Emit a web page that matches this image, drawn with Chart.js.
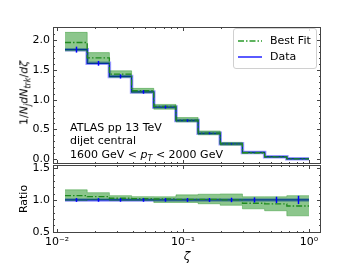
<!DOCTYPE html>
<html lang="en">
<head>
  <meta charset="UTF-8" />
  <title>Fragmentation function ratio</title>
  <script src="https://cdn.jsdelivr.net/npm/chart.js"></script>
  <style>
    body { margin: 0; background: #fff; }
    #wrap { position: relative; width: 357px; height: 268px; background: #fff;
      font-family: 'DejaVu Sans', sans-serif; color: #000; }
    #wrap canvas { position: absolute; left: 0; top: 0; }
    .ov { position: absolute; white-space: nowrap; font-size: 11px; }
    #ylab { left: 25px; top: 93px; transform: translate(-50%, -50%) rotate(-90deg); }
    #ylab sub { font-size: 8px; }
    #note { left: 70px; top: 121px; line-height: 13.3px; }
    #note sub { font-size: 8px; }
    #legend { left: 233px; top: 28px; width: 82px; height: 39px; border: 1px solid #d0d0d0;
      border-radius: 3px; background: rgba(255,255,255,0.8); }
    #legend .row { position: absolute; left: 0; height: 14px; line-height: 14px; }
    #legend svg { position: absolute; left: 3px; top: 2px; }
    #legend span { position: absolute; left: 36px; top: 0; }
  </style>
</head>
<body>
<div id="wrap">
  <canvas id="topChart" width="357" height="268"></canvas>
  <canvas id="ratioChart" width="357" height="268"></canvas>
  <div class="ov" id="ylab">1/<i>N</i><sub><i>j</i></sub><i>dN</i><sub><i>trk</i></sub>/<i>dζ</i></div>
  <div class="ov" id="note">ATLAS pp 13 TeV<br>dijet central<br>1600 GeV &lt; <i>p</i><sub><i>T</i></sub> &lt; 2000 GeV</div>
  <div class="ov" id="legend">
    <div class="row" style="top:5px">
      <svg width="26" height="10"><line x1="1" y1="5" x2="25" y2="5" stroke="#2a9a2a" stroke-width="1.3" stroke-dasharray="6,2,1.5,2"/></svg>
      <span>Best Fit</span>
    </div>
    <div class="row" style="top:21px">
      <svg width="26" height="10"><line x1="1" y1="5" x2="25" y2="5" stroke="#0000ff" stroke-width="1.3"/></svg>
      <span>Data</span>
    </div>
  </div>
</div>

<script>
// bin edges in zeta
const edges = [0.01157, 0.01736, 0.02604, 0.03906, 0.05859, 0.08789, 0.1318, 0.1975, 0.2963, 0.4444, 0.6667, 1.0];

// top panel
const dataVals = [1.84, 1.61, 1.39, 1.13, 0.875, 0.65, 0.435, 0.258, 0.115, 0.042, 0.008];
const dataErr  = [0.05, 0.04, 0.035, 0.03, 0.025, 0.02, 0.015, 0.01, 0.006, 0.003, 0.001];
const fitVals  = [1.96, 1.70, 1.43, 1.15, 0.887, 0.657, 0.44, 0.258, 0.109, 0.039, 0.007];
const fitHi    = [2.13, 1.79, 1.485, 1.19, 0.92, 0.70, 0.475, 0.283, 0.121, 0.044, 0.0085];
const fitLo    = [1.82, 1.61, 1.375, 1.115, 0.84, 0.625, 0.41, 0.236, 0.099, 0.035, 0.006];

// ratio panel
const ratioData = [1, 1, 1, 1, 1, 1, 1, 1, 1, 1, 1];
const ratioErr  = [0.03, 0.028, 0.028, 0.028, 0.028, 0.03, 0.03, 0.035, 0.04, 0.05, 0.065];
const ratioFit  = [1.068, 1.052, 1.027, 1.02, 1.015, 1.01, 1.01, 1.0, 0.948, 0.937, 0.905];
const ratioHi   = [1.16, 1.115, 1.068, 1.052, 1.05, 1.08, 1.09, 1.095, 1.05, 1.05, 1.068];
const ratioLo   = [0.99, 1.0, 0.99, 0.99, 0.96, 0.96, 0.94, 0.916, 0.86, 0.83, 0.75];

// ticks
const xTicks = [0.01, 0.1, 1];
const xTickLabels = ['10⁻²', '10⁻¹', '10⁰'];
const yTopTicks = [0, 0.5, 1.0, 1.5, 2.0];
const yTopLabels = ['0.0', '0.5', '1.0', '1.5', '2.0'];
const yRatioTicks = [0.5, 1.0, 1.5];
const yRatioLabels = ['0.5', '1.0', '1.5'];

const FONT = { family: 'DejaVu Sans', size: 11 };
const X_MIN = 0.00929, X_MAX = 1.245;

function stepPts(vals) {
  return edges.map((x, i) => ({ x: x, y: vals[Math.min(i, vals.length - 1)] }));
}

// minor tick positions on the log axis
const xMinor = [];
[0.01, 0.1].forEach(d => { for (let k = 2; k <= 9; k++) xMinor.push(k * d); });

// inward ticks on all four sides + frame + error bars
const framePlugin = {
  id: 'frame',
  afterDatasetsDraw(chart) {
    const o = chart.options.plugins.frame;
    const ctx = chart.ctx, a = chart.chartArea;
    const xs = chart.scales.x, ys = chart.scales.y;
    ctx.save();
    ctx.beginPath();
    ctx.rect(a.left, a.top, a.right - a.left, a.bottom - a.top);
    ctx.clip();
    ctx.strokeStyle = '#0000ff';
    ctx.lineWidth = 1.5;
    o.vals.forEach((v, i) => {
      const cx = xs.getPixelForValue(Math.sqrt(edges[i] * edges[i + 1]));
      ctx.beginPath();
      ctx.moveTo(Math.round(cx) + 0.5, ys.getPixelForValue(v - o.errs[i]));
      ctx.lineTo(Math.round(cx) + 0.5, ys.getPixelForValue(v + o.errs[i]));
      ctx.stroke();
    });
    ctx.restore();

    ctx.save();
    ctx.strokeStyle = '#444';
    ctx.lineWidth = 1;
    ctx.strokeRect(Math.round(a.left) + 0.5, Math.round(a.top) + 0.5,
      Math.round(a.right - a.left) - 1, Math.round(a.bottom - a.top) - 1);
    const xtick = (v, len) => {
      const px = Math.round(xs.getPixelForValue(v)) + 0.5;
      ctx.beginPath();
      ctx.moveTo(px, a.bottom); ctx.lineTo(px, a.bottom - len);
      ctx.moveTo(px, a.top); ctx.lineTo(px, a.top + len);
      ctx.stroke();
    };
    const ytick = (v, len) => {
      const py = Math.round(ys.getPixelForValue(v)) + 0.5;
      ctx.beginPath();
      ctx.moveTo(a.left, py); ctx.lineTo(a.left + len, py);
      ctx.moveTo(a.right, py); ctx.lineTo(a.right - len, py);
      ctx.stroke();
    };
    xTicks.forEach(v => xtick(v, 4));
    xMinor.forEach(v => xtick(v, 2));
    o.yMajor.forEach(v => ytick(v, 4));
    o.yMinor.forEach(v => ytick(v, 2));
    ctx.restore();
  }
};

function lineSet(vals, extra) {
  return Object.assign({
    data: stepPts(vals), stepped: true, pointRadius: 0, borderWidth: 1, fill: false
  }, extra);
}

function makeDatasets(fit, hi, lo, dat) {
  return [
    lineSet(fit, { borderColor: '#1f8a1f', borderWidth: 1.3, borderDash: [6, 2, 1.5, 2] }),
    lineSet(hi, { borderColor: 'rgba(0,128,0,0.35)', backgroundColor: 'rgba(0,128,0,0.45)', fill: '+1' }),
    lineSet(lo, { borderColor: 'rgba(0,128,0,0.35)' }),
    lineSet(dat, { borderColor: '#0000ff', borderWidth: 1.3 }),
    lineSet(dat, { borderColor: 'rgba(0,0,255,0.4)', borderWidth: 3.5 })
  ];
}

function yScale(min, max, ticks, labels, width, title) {
  return {
    min: min, max: max,
    afterBuildTicks: s => { s.ticks = ticks.map(v => ({ value: v })); },
    afterFit: s => { s.width = width; },
    grid: { display: false, drawTicks: false },
    border: { display: false },
    ticks: { font: FONT, color: '#000', padding: 3, callback: (v, i) => labels[i] },
    title: title
  };
}

const topMinor = [];
for (let v = 0.1; v < 2.2; v += 0.1) topMinor.push(+v.toFixed(1));
const ratioMinor = [];
for (let v = 0.6; v < 1.55; v += 0.1) ratioMinor.push(+v.toFixed(1));

new Chart(document.getElementById('topChart'), {
  type: 'line',
  data: { datasets: makeDatasets(fitVals, fitHi, fitLo, dataVals) },
  plugins: [framePlugin],
  options: {
    responsive: false, animation: false, devicePixelRatio: 1,
    layout: { padding: { left: 0, top: 27, right: 36, bottom: 104 } },
    scales: {
      x: { type: 'logarithmic', min: X_MIN, max: X_MAX, bounds: 'data', display: false },
      y: yScale(-0.08, 2.22, yTopTicks, yTopLabels, 53, { display: false })
    },
    plugins: {
      legend: { display: false }, tooltip: { enabled: false },
      frame: { vals: dataVals, errs: dataErr, yMajor: yTopTicks, yMinor: topMinor }
    }
  }
});

new Chart(document.getElementById('ratioChart'), {
  type: 'line',
  data: { datasets: makeDatasets(ratioFit, ratioHi, ratioLo, ratioData) },
  plugins: [framePlugin],
  options: {
    responsive: false, animation: false, devicePixelRatio: 1,
    layout: { padding: { left: 0, top: 165, right: 36, bottom: 0 } },
    scales: {
      x: {
        type: 'logarithmic', min: X_MIN, max: X_MAX, bounds: 'data',
        afterBuildTicks: s => { s.ticks = xTicks.map(v => ({ value: v })); },
        afterFit: s => { s.height = 35; },
        grid: { display: false, drawTicks: false },
        border: { display: false },
        ticks: { font: FONT, color: '#000', padding: 3, autoSkip: false, maxRotation: 0,
          callback: (v, i) => xTickLabels[i] },
        title: { display: true, text: 'ζ', color: '#000',
          font: { family: 'DejaVu Sans', size: 12, style: 'italic' }, padding: { top: 0, bottom: 4 } }
      },
      y: yScale(0.48, 1.55, yRatioTicks, yRatioLabels, 53,
        { display: true, text: 'Ratio', color: '#000', font: FONT, padding: { top: 18, bottom: 0 } })
    },
    plugins: {
      legend: { display: false }, tooltip: { enabled: false },
      frame: { vals: ratioData, errs: ratioErr, yMajor: yRatioTicks, yMinor: ratioMinor }
    }
  }
});
</script>
</body>
</html>
